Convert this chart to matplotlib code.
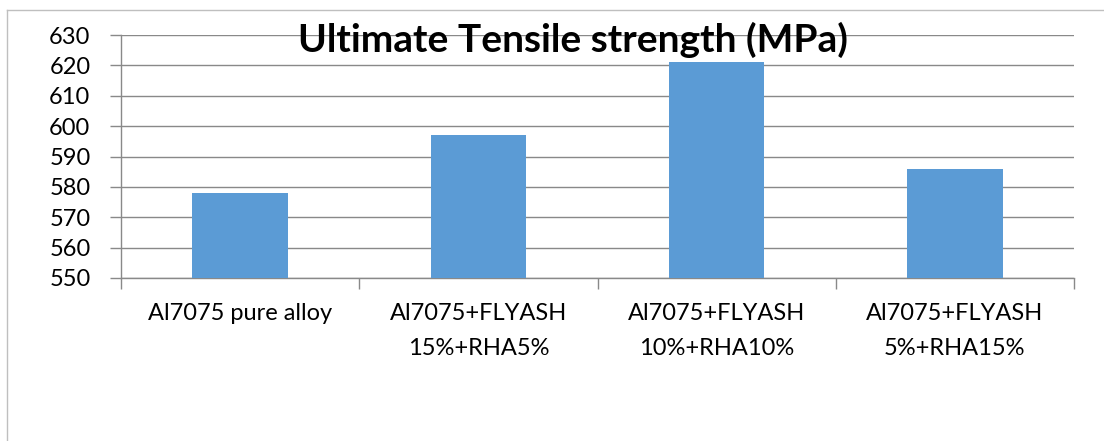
import matplotlib
matplotlib.use('Agg')
import matplotlib.pyplot as plt
from matplotlib.lines import Line2D
import numpy as np

plt.rcParams['font.family'] = ['Lato', 'DejaVu Sans']

categories = ['Al7075 pure alloy', 'Al7075+FLYASH\n15%+RHA5%',
              'Al7075+FLYASH\n10%+RHA10%', 'Al7075+FLYASH\n5%+RHA15%']
uts = [578, 597, 621, 586]
y_ticks = [550, 560, 570, 580, 590, 600, 610, 620, 630]
title = 'Ultimate Tensile strength (MPa)'

BAR_COLOR = '#5B9BD5'
GRID_COLOR = '#898989'

fig = plt.figure(figsize=(11.04, 4.41), dpi=100)
# plot area in pixels: x 121..1074, y 35..278
ax = fig.add_axes([121 / 1104, 1 - 278 / 441, (1074 - 121) / 1104, (278 - 35) / 441])

x = np.arange(len(categories))
ax.bar(x, uts, width=0.4, color=BAR_COLOR, zorder=3)
ax.set_xlim(-0.5, len(categories) - 0.5)
ax.set_ylim(y_ticks[0], y_ticks[-1])
ax.set_yticks(y_ticks)
ax.set_yticklabels([str(v) for v in y_ticks], fontsize=17)
ax.yaxis.grid(True, color=GRID_COLOR, linewidth=1.0, zorder=0)

# boundary ticks between categories, labels centred under bars
ax.set_xticks(np.arange(len(categories) + 1) - 0.5)
ax.set_xticklabels([])
ax.set_xticks(x, minor=True)
ax.set_xticklabels(categories, minor=True, fontsize=17, linespacing=1.8)
ax.tick_params(axis='x', which='minor', length=0, pad=18)
ax.tick_params(axis='x', which='major', length=8, color=GRID_COLOR, width=1)
ax.tick_params(axis='y', length=8, color=GRID_COLOR, width=1, pad=14)

for side in ['top', 'right']:
    ax.spines[side].set_visible(False)
for side in ['left', 'bottom']:
    ax.spines[side].set_color(GRID_COLOR)
    ax.spines[side].set_linewidth(1)

fig.text(573 / 1104, 1 - 52 / 441, title, ha='center', va='baseline',
         fontsize=28, fontweight='bold')

# chart area border (cropped on right/bottom)
fig.add_artist(Line2D([7 / 1104, 7 / 1104], [0, 1 - 10 / 441], color='#bfbfbf', lw=1))
fig.add_artist(Line2D([7 / 1104, 1], [1 - 10 / 441, 1 - 10 / 441], color='#bfbfbf', lw=1))

fig.savefig('out.png', dpi=100)
